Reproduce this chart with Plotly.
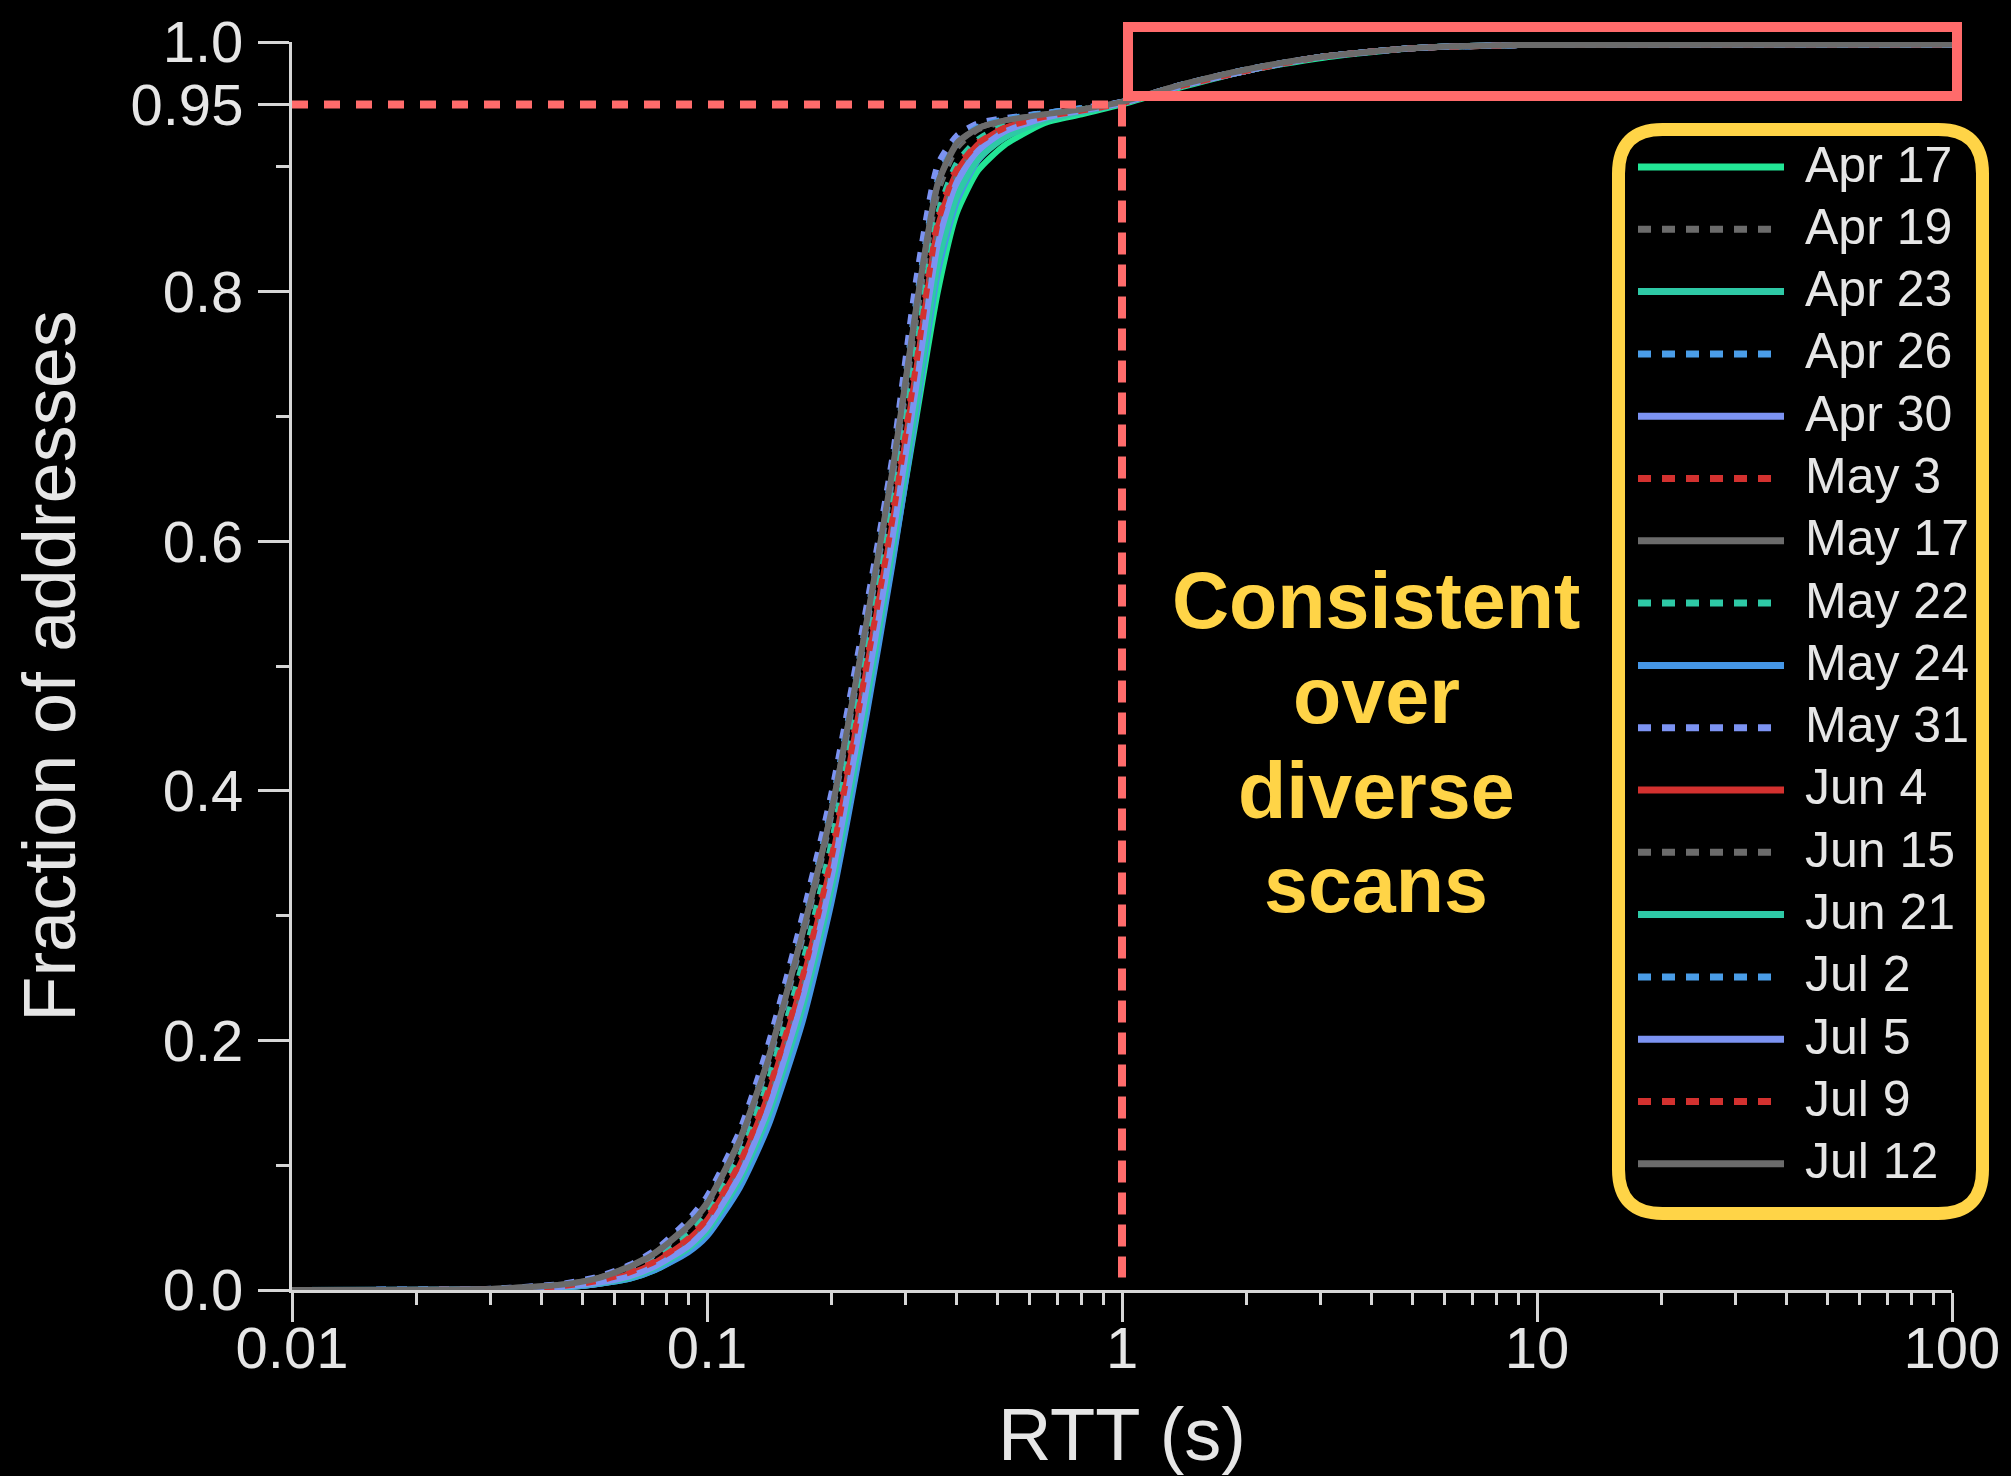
import plotly.graph_objects as go

# ---------------- data ----------------
rtt_s = [0.01, 0.03, 0.045, 0.055, 0.065, 0.075, 0.09, 0.1, 0.12, 0.14, 0.17, 0.2, 0.24, 0.28,
         0.32, 0.36, 0.4, 0.45, 0.52, 0.65, 0.8, 1.0, 1.4, 2.0, 3.0, 5.0, 9.0, 100]

scan_names = ["Apr 17", "Apr 19", "Apr 23", "Apr 26", "Apr 30", "May 3", "May 17", "May 22",
              "May 24", "May 31", "Jun 4", "Jun 15", "Jun 21", "Jul 2", "Jul 5", "Jul 9", "Jul 12"]

scan_colors = ["#22E696", "#6B6B6B", "#2EC9A6", "#4A9DE8", "#7C93F2", "#D3312F", "#6B6B6B", "#2EC9A6",
               "#4596E6", "#7C93F2", "#D3312F", "#6B6B6B", "#2EC9A6", "#4A9DE8", "#7C93F2", "#D3312F", "#6B6B6B"]

scan_dotted = [False, True, False, True, False, True, False, True,
               False, True, False, True, False, True, False, True, False]

cdf_apr17 = [0, 0.0003, 0.002, 0.005, 0.009, 0.016, 0.031, 0.044, 0.084, 0.132, 0.218, 0.315, 0.455, 0.585,
             0.700, 0.800, 0.863, 0.897, 0.917, 0.935, 0.942, 0.950, 0.964, 0.977, 0.987, 0.995, 0.9975, 0.998]
cdf_apr19 = [0, 0.0008, 0.004, 0.010, 0.018, 0.029, 0.050, 0.068, 0.118, 0.180, 0.282, 0.382, 0.522, 0.650,
             0.780, 0.880, 0.915, 0.930, 0.936, 0.942, 0.946, 0.952, 0.966, 0.978, 0.988, 0.995, 0.9975, 0.998]
cdf_apr23 = [0, 0.0004, 0.0025, 0.006, 0.011, 0.019, 0.035, 0.049, 0.091, 0.142, 0.232, 0.330, 0.470, 0.600,
             0.720, 0.830, 0.880, 0.908, 0.924, 0.937, 0.944, 0.951, 0.965, 0.977, 0.988, 0.995, 0.9975, 0.998]
cdf_apr26 = [0, 0.0009, 0.0045, 0.010, 0.019, 0.030, 0.053, 0.071, 0.122, 0.186, 0.290, 0.390, 0.530, 0.660,
             0.795, 0.890, 0.920, 0.932, 0.938, 0.943, 0.947, 0.952, 0.966, 0.978, 0.988, 0.995, 0.9975, 0.998]
cdf_apr30 = [0, 0.0003, 0.002, 0.005, 0.010, 0.017, 0.032, 0.046, 0.086, 0.135, 0.222, 0.320, 0.460, 0.590,
             0.712, 0.825, 0.880, 0.910, 0.927, 0.939, 0.945, 0.951, 0.965, 0.977, 0.988, 0.995, 0.9975, 0.998]
cdf_may3 = [0, 0.0005, 0.003, 0.008, 0.014, 0.023, 0.042, 0.058, 0.104, 0.160, 0.254, 0.352, 0.495, 0.622,
            0.748, 0.858, 0.900, 0.920, 0.932, 0.941, 0.946, 0.951, 0.965, 0.977, 0.988, 0.995, 0.9975, 0.998]
cdf_may17 = [0, 0.0008, 0.0045, 0.010, 0.019, 0.030, 0.052, 0.070, 0.121, 0.184, 0.287, 0.386, 0.526, 0.655,
             0.788, 0.886, 0.918, 0.931, 0.937, 0.942, 0.946, 0.952, 0.966, 0.978, 0.988, 0.995, 0.9975, 0.998]
cdf_may22 = [0, 0.0006, 0.0035, 0.008, 0.015, 0.025, 0.044, 0.061, 0.108, 0.166, 0.262, 0.360, 0.502, 0.630,
             0.755, 0.862, 0.903, 0.922, 0.933, 0.941, 0.946, 0.951, 0.965, 0.977, 0.988, 0.995, 0.9975, 0.998]
cdf_may24 = [0, 0.0003, 0.002, 0.005, 0.009, 0.016, 0.030, 0.043, 0.082, 0.130, 0.215, 0.312, 0.452, 0.582,
             0.705, 0.815, 0.872, 0.905, 0.925, 0.938, 0.944, 0.951, 0.965, 0.977, 0.988, 0.995, 0.9975, 0.998]
cdf_may31 = [0, 0.001, 0.005, 0.011, 0.020, 0.032, 0.056, 0.075, 0.128, 0.195, 0.300, 0.400, 0.540, 0.668,
             0.812, 0.902, 0.925, 0.935, 0.939, 0.943, 0.947, 0.952, 0.966, 0.978, 0.988, 0.995, 0.9975, 0.998]
cdf_jun4 = [0, 0.0005, 0.003, 0.007, 0.013, 0.022, 0.040, 0.056, 0.100, 0.155, 0.248, 0.345, 0.490, 0.615,
            0.740, 0.852, 0.896, 0.918, 0.931, 0.940, 0.945, 0.951, 0.965, 0.977, 0.988, 0.995, 0.9975, 0.998]
cdf_jun15 = [0, 0.0004, 0.0028, 0.0065, 0.012, 0.020, 0.037, 0.052, 0.095, 0.148, 0.240, 0.337, 0.480, 0.607,
             0.732, 0.845, 0.892, 0.915, 0.930, 0.940, 0.945, 0.951, 0.965, 0.977, 0.988, 0.995, 0.9975, 0.998]
cdf_jun21 = [0, 0.0003, 0.0022, 0.0055, 0.010, 0.018, 0.033, 0.047, 0.088, 0.138, 0.226, 0.323, 0.463, 0.593,
             0.712, 0.822, 0.876, 0.906, 0.923, 0.937, 0.944, 0.951, 0.965, 0.977, 0.988, 0.995, 0.9975, 0.998]
cdf_jul2 = [0, 0.0008, 0.0042, 0.0095, 0.018, 0.029, 0.051, 0.069, 0.119, 0.182, 0.285, 0.385, 0.525, 0.655,
            0.790, 0.887, 0.919, 0.932, 0.938, 0.943, 0.947, 0.952, 0.966, 0.978, 0.988, 0.995, 0.9975, 0.998]
cdf_jul5 = [0, 0.0004, 0.0026, 0.006, 0.011, 0.019, 0.035, 0.050, 0.092, 0.144, 0.234, 0.332, 0.474, 0.603,
            0.726, 0.838, 0.888, 0.913, 0.928, 0.939, 0.945, 0.951, 0.965, 0.977, 0.988, 0.995, 0.9975, 0.998]
cdf_jul9 = [0, 0.0005, 0.0032, 0.0075, 0.014, 0.023, 0.041, 0.057, 0.102, 0.158, 0.251, 0.348, 0.492, 0.618,
            0.744, 0.855, 0.898, 0.919, 0.931, 0.940, 0.945, 0.951, 0.965, 0.977, 0.988, 0.995, 0.9975, 0.998]
cdf_jul12 = [0, 0.0008, 0.0044, 0.0098, 0.0185, 0.0295, 0.051, 0.069, 0.120, 0.183, 0.286, 0.386, 0.527, 0.657,
             0.790, 0.887, 0.919, 0.931, 0.937, 0.942, 0.946, 0.952, 0.966, 0.978, 0.988, 0.995, 0.9975, 0.998]

scan_cdfs = [cdf_apr17, cdf_apr19, cdf_apr23, cdf_apr26, cdf_apr30, cdf_may3, cdf_may17, cdf_may22,
             cdf_may24, cdf_may31, cdf_jun4, cdf_jun15, cdf_jun21, cdf_jul2, cdf_jul5, cdf_jul9, cdf_jul12]

x_tickvals = [0.01, 0.1, 1, 10, 100]
x_ticktext = ["0.01", "0.1", "1", "10", "100"]
x_minor = [m * d for d in [0.01, 0.1, 1, 10] for m in range(2, 10)]
y_tickvals = [0, 0.2, 0.4, 0.6, 0.8, 0.95, 1.0]
y_ticktext = ["0.0", "0.2", "0.4", "0.6", "0.8", "0.95", "1.0"]
y_minor = [0.1, 0.3, 0.5, 0.7, 0.9]

threshold_rtt = 1.0
threshold_frac = 0.95
note_lines = ["Consistent", "over", "diverse", "scans"]

# ---------------- layout geometry (pixels) ----------------
W, H = 2011, 1476
ML, MR, MT, MB = 292, 59, 42, 186
PW, PH = W - ML - MR, H - MT - MB

def px(xp):
    return (xp - ML) / PW

def py(yp):
    return (H - MB - yp) / PH

TXT = "#e6e6e6"
AXC = "#d6d6d6"
FONT = "Liberation Sans, Arial, Helvetica, sans-serif"
RED = "#FF6B6B"
YEL = "#FFD447"

fig = go.Figure()
for name, color, dotted, ys in zip(scan_names, scan_colors, scan_dotted, scan_cdfs):
    fig.add_trace(go.Scatter(
        x=rtt_s, y=ys, name=name, mode="lines",
        line=dict(color=color, width=6, dash="10px,11px" if dotted else "solid",
                  shape="spline", smoothing=0.6),
        showlegend=False,
    ))

shapes = []
# threshold dashed lines
shapes.append(dict(type="line", xref="x", yref="y", x0=0.01, x1=threshold_rtt,
                   y0=threshold_frac, y1=threshold_frac,
                   line=dict(color=RED, width=8, dash="16px,16px"), layer="above"))
shapes.append(dict(type="line", xref="x", yref="y", x0=threshold_rtt, x1=threshold_rtt,
                   y0=threshold_frac, y1=0.01,
                   line=dict(color=RED, width=8, dash="22px,10px"), layer="above"))
# highlight box around the tail
shapes.append(dict(type="rect", xref="paper", yref="paper",
                   x0=px(1128), x1=px(1957), y0=py(96), y1=py(27),
                   line=dict(color=RED, width=10), fillcolor="rgba(0,0,0,0)", layer="above"))

# legend box (rounded)
def rrect(x0, y0, x1, y1, r):
    def P(a, b):
        return f"{px(a):.5f},{py(b):.5f}"
    return (f"M{P(x0 + r, y0)} L{P(x1 - r, y0)} Q{P(x1, y0)} {P(x1, y0 + r)} "
            f"L{P(x1, y1 - r)} Q{P(x1, y1)} {P(x1 - r, y1)} L{P(x0 + r, y1)} "
            f"Q{P(x0, y1)} {P(x0, y1 - r)} L{P(x0, y0 + r)} Q{P(x0, y0)} {P(x0 + r, y0)} Z")

shapes.append(dict(type="path", xref="paper", yref="paper",
                   path=rrect(1618.5, 129.5, 1982.5, 1213.5, 44),
                   line=dict(color=YEL, width=13), fillcolor="#000000", layer="above"))

annotations = []
row0, dy = 167, 62.3
for i, (name, color, dotted) in enumerate(zip(scan_names, scan_colors, scan_dotted)):
    yy = row0 + dy * i
    shapes.append(dict(type="line", xref="paper", yref="paper",
                       x0=px(1638), x1=px(1773 if dotted else 1784), y0=py(yy), y1=py(yy),
                       line=dict(color=color, width=7, dash="13px,11px" if dotted else "solid"),
                       layer="above"))
    annotations.append(dict(xref="paper", yref="paper", x=px(1803), y=py(yy - 2.5),
                            xanchor="left", yanchor="middle", text=name, showarrow=False,
                            font=dict(family=FONT, size=50, color=TXT)))

note_y = [600, 695, 790, 885]
for t, yy in zip(note_lines, note_y):
    annotations.append(dict(xref="paper", yref="paper", x=px(1376), y=py(yy),
                            xanchor="center", yanchor="middle", text=f"<b>{t}</b>", showarrow=False,
                            font=dict(family=FONT, size=79, color=YEL)))

fig.update_layout(
    width=W, height=H,
    margin=dict(l=ML, r=MR, t=MT, b=MB, pad=0),
    paper_bgcolor="#000000", plot_bgcolor="#000000",
    shapes=shapes, annotations=annotations,
    showlegend=False,
    font=dict(family=FONT, color=TXT),
)
fig.update_xaxes(
    type="log", range=[-2, 2], tickvals=x_tickvals, ticktext=x_ticktext,
    showgrid=False, zeroline=False, showline=True, linecolor=AXC, linewidth=3,
    ticks="outside", ticklen=29, tickwidth=3, tickcolor=AXC,
    tickfont=dict(family=FONT, size=58, color=TXT), ticklabelstandoff=-24,
    minor=dict(tickvals=x_minor, ticks="outside", ticklen=12, tickwidth=3, tickcolor=AXC, showgrid=False),
    title=dict(text="RTT (s)", font=dict(family=FONT, size=74, color=TXT), standoff=37),
    automargin=False,
)
fig.update_yaxes(
    range=[0, 1], tickvals=y_tickvals, ticktext=y_ticktext,
    showgrid=False, zeroline=False, showline=True, linecolor=AXC, linewidth=3,
    ticks="outside", ticklen=31, tickwidth=3, tickcolor=AXC,
    tickfont=dict(family=FONT, size=58, color=TXT), ticklabelstandoff=3,
    minor=dict(tickvals=y_minor, ticks="outside", ticklen=13, tickwidth=3, tickcolor=AXC, showgrid=False),
    title=dict(text="Fraction of addresses", font=dict(family=FONT, size=74, color=TXT), standoff=31),
    automargin=False,
)

fig.write_html("out.html")
